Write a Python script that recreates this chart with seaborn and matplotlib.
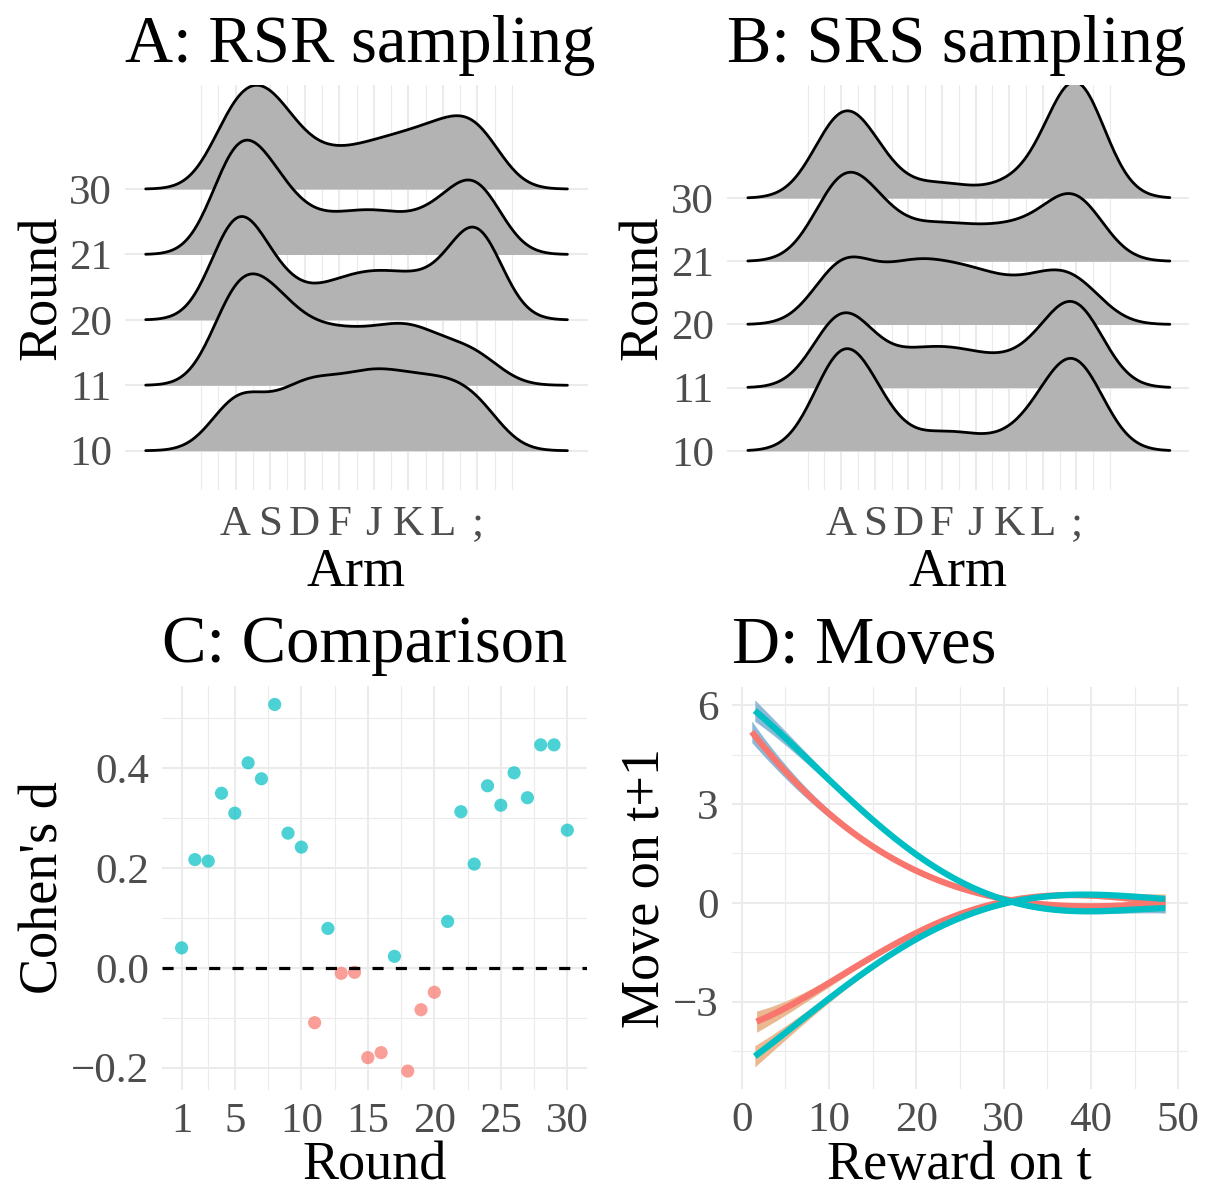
import numpy as np
import pandas as pd
import matplotlib
matplotlib.use("Agg")
import matplotlib.pyplot as plt
import matplotlib.transforms as mtransforms
from matplotlib.ticker import FixedLocator
import seaborn as sns

# ------------------------------------------------------------------ data
ARM_POS = [1, 2, 3, 4, 5, 6, 7, 8]
ARM_LABELS = ["A", "S", "D", "F", "J", "K", "L", ";"]
RIDGE_ROUNDS = [10, 11, 20, 21, 30]

# choices per arm (out of 200) in the shown rounds
rsr_r10 = [28, 14, 28, 24, 30, 26, 26, 23]
rsr_r11 = [48, 37, 21, 20, 19, 24, 15, 15]
rsr_r20 = [56, 20, 8, 15, 18, 16, 14, 52]
rsr_r21 = [55, 33, 13, 14, 17, 12, 18, 38]
rsr_r30 = [40, 40, 15, 13, 17, 20, 24, 31]

srs_r10 = [71, 24, 0, 12, 5, 4, 20, 65]
srs_r11 = [55, 10, 15, 18, 14, 10, 18, 60]
srs_r20 = [44, 14, 30, 24, 24, 15, 21, 28]
srs_r21 = [57, 25, 11, 18, 12, 16, 14, 46]
srs_r30 = [60, 21, 0, 11, 0, 9, 8, 91]

comp_rounds = list(range(1, 31))
cohens_d = [0.040, 0.217, 0.214, 0.350, 0.310, 0.411, 0.379, 0.528, 0.270, 0.242,
            -0.110, 0.079, -0.011, -0.009, -0.180, -0.170, 0.023, -0.207, -0.084, -0.049,
            0.093, 0.313, 0.208, 0.365, 0.326, 0.391, 0.341, 0.447, 0.447, 0.276]

reward_x = [5, 10, 15, 20, 25, 30, 35, 40, 45, 48.5]
rsr_up_x0, rsr_up_y0 = 1.15, 5.15
rsr_up = [4.05, 2.74, 1.64, 0.93, 0.48, 0.18, -0.05, -0.15, -0.07, 0.03]
srs_up_x0, srs_up_y0 = 1.5, 5.83
srs_up = [5.00, 3.74, 2.54, 1.43, 0.63, 0.13, -0.17, -0.27, -0.22, -0.15]
rsr_dn_x0, rsr_dn_y0 = 1.7, -3.64
rsr_dn = [-3.13, -2.43, -1.68, -0.92, -0.32, 0.05, 0.23, 0.18, 0.13, 0.05]
srs_dn_x0, srs_dn_y0 = 1.5, -4.71
srs_dn = [-3.84, -2.93, -1.98, -1.13, -0.42, 0.01, 0.18, 0.23, 0.18, 0.13]
move_se = [0.33, 0.20, 0.12, 0.09, 0.07, 0.06, 0.06, 0.07, 0.08, 0.10, 0.15]

# ------------------------------------------------------------------ style
sns.set_theme(style="white")
plt.rcParams["font.family"] = ["Liberation Serif", "DejaVu Serif"]
plt.rcParams["axes.unicode_minus"] = True
plt.rcParams["lines.scale_dashes"] = False

GRID = "#EBEBEB"
TICK_COL = "#4D4D4D"
TICK_FS, LAB_FS, TITLE_FS = 31, 39, 48
RED, TEAL = "#F8766D", "#00BFC4"
BAND_UP, BAND_DN = "#8CB9D7", "#EBB991"

fig = plt.figure(figsize=(12.07, 11.91), dpi=100)
fig.patch.set_facecolor("white")


def style_axes(ax, xmaj, xmin, ymaj, ymin, xpad=11):
    for s in ax.spines.values():
        s.set_visible(False)
    ax.xaxis.set_major_locator(FixedLocator(xmaj))
    ax.xaxis.set_minor_locator(FixedLocator(xmin))
    ax.yaxis.set_major_locator(FixedLocator(ymaj))
    ax.yaxis.set_minor_locator(FixedLocator(ymin))
    ax.set_axisbelow(True)
    ax.grid(True, which="major", color=GRID, lw=1.5)
    ax.grid(True, which="minor", color=GRID, lw=0.8)
    ax.tick_params(which="both", length=0, labelcolor=TICK_COL, labelsize=TICK_FS)
    ax.tick_params(axis="x", pad=xpad)
    ax.tick_params(axis="y", pad=9.5)


def draw_ridges(ax, counts_by_round, bw, cut, scale):
    n = len(RIDGE_ROUNDS)
    for i, rnd in enumerate(RIDGE_ROUNDS):
        obs = np.repeat(np.asarray(ARM_POS, float), counts_by_round[rnd])
        factor = bw / np.std(obs, ddof=1)
        tr = mtransforms.Affine2D().scale(1, scale).translate(0, i) + ax.transData
        z = 10 + 2 * (n - i)
        nc = len(ax.collections)
        sns.kdeplot(x=obs, bw_method=factor, cut=cut, fill=True,
                    color="#B3B3B3", alpha=1, linewidth=0, ax=ax)
        for c in ax.collections[nc:]:
            c.set_transform(tr)
            c.set_zorder(z)
        nl = len(ax.lines)
        sns.kdeplot(x=obs, bw_method=factor, cut=cut,
                    color="black", linewidth=2.0, ax=ax)
        for ln in ax.lines[nl:]:
            ln.set_transform(tr)
            ln.set_zorder(z + 1)


def ridge_panel(rect, counts_by_round, bw, cut, scale, xlim, ylim, title):
    ax = fig.add_axes(rect)
    draw_ridges(ax, counts_by_round, bw, cut, scale)
    style_axes(ax, ARM_POS, list(np.arange(0, 9.01, 0.5)),
               list(range(len(RIDGE_ROUNDS))), [])
    ax.set_xticklabels(ARM_LABELS)
    ax.set_yticklabels([str(r) for r in RIDGE_ROUNDS])
    ax.set_xlim(*xlim)
    ax.set_ylim(*ylim)
    ax.set_xlabel("Arm", fontsize=LAB_FS, labelpad=3, color="black")
    ax.set_ylabel("Round", fontsize=LAB_FS, labelpad=1, color="black")
    ax.set_title(title, loc="left", fontsize=TITLE_FS, pad=16.5, color="black")
    return ax


rsr = {10: rsr_r10, 11: rsr_r11, 20: rsr_r20, 21: rsr_r21, 30: rsr_r30}
srs = {10: srs_r10, 11: srs_r11, 20: srs_r20, 21: srs_r21, 30: srs_r30}

ridge_panel([0.1036, 0.5886, 0.3836, 0.3400], rsr, 0.75, 3.47, 8.98,
            (-2.2, 11.2), (-0.6, 5.59), "A: RSR sampling")
ridge_panel([0.6023, 0.5886, 0.3828, 0.3400], srs, 0.85, 3.27, 8.19,
            (-2.4, 11.35), (-0.62, 5.79), "B: SRS sampling")

# ------------------------------------------------------------------ C
axc = fig.add_axes([0.1345, 0.0852, 0.3515, 0.3388])
dfc = pd.DataFrame({"Round": comp_rounds, "d": cohens_d})
dfc["sign"] = np.where(dfc["d"] > 0, "pos", "neg")
sns.scatterplot(data=dfc, x="Round", y="d", hue="sign",
                palette={"pos": TEAL, "neg": RED}, s=90, alpha=0.7,
                linewidth=0, legend=False, ax=axc, zorder=3)
axc.axhline(0, color="black", lw=2.3, ls=(0, (8.0, 8.8)), zorder=4)
style_axes(axc, [1, 5, 10, 15, 20, 25, 30], [3, 7.5, 12.5, 17.5, 22.5, 27.5],
           [-0.2, 0.0, 0.2, 0.4], [-0.1, 0.1, 0.3, 0.5], xpad=9.5)
axc.set_yticklabels(["\u22120.2", "0.0", "0.2", "0.4"])
axc.set_xlim(-0.45, 31.45)
axc.set_ylim(-0.244, 0.565)
axc.set_xlabel("Round", fontsize=LAB_FS, labelpad=0, color="black")
axc.set_ylabel("Cohen's d", fontsize=LAB_FS, labelpad=1, color="black")
axc.set_title("C: Comparison", loc="left", fontsize=TITLE_FS, pad=17, color="black")

# ------------------------------------------------------------------ D
axd = fig.add_axes([0.6062, 0.0859, 0.3780, 0.3373])
curves = [
    (rsr_up_x0, rsr_up_y0, rsr_up, RED, BAND_UP),
    (srs_up_x0, srs_up_y0, srs_up, TEAL, BAND_UP),
    (rsr_dn_x0, rsr_dn_y0, rsr_dn, RED, BAND_DN),
    (srs_dn_x0, srs_dn_y0, srs_dn, TEAL, BAND_DN),
]
ORDER = 4
se = np.asarray(move_se)
for x0, y0, ys, lc, bc in curves:
    xx = np.array([x0] + reward_x)
    yy = np.array([y0] + ys)
    n0 = len(axd.lines)
    sns.regplot(x=xx, y=yy + se, order=ORDER, ci=None, scatter=False, ax=axd,
                line_kws=dict(alpha=0))
    sns.regplot(x=xx, y=yy - se, order=ORDER, ci=None, scatter=False, ax=axd,
                line_kws=dict(alpha=0))
    up = axd.lines[n0].get_xydata()
    lo = axd.lines[n0 + 1].get_xydata()
    for ln in axd.lines[n0:]:
        ln.remove()
    axd.fill_between(up[:, 0], lo[:, 1], up[:, 1], color=bc, lw=0, zorder=2)
for x0, y0, ys, lc, bc in curves:
    xx = np.array([x0] + reward_x)
    yy = np.array([y0] + ys)
    sns.regplot(x=xx, y=yy, order=ORDER, ci=None, scatter=False, ax=axd, color=lc,
                line_kws=dict(lw=4.5, solid_capstyle="butt",
                              zorder=4 if lc == TEAL else 3))
style_axes(axd, [0, 10, 20, 30, 40, 50], [5, 15, 25, 35, 45],
           [-3, 0, 3, 6], [-4.5, -1.5, 1.5, 4.5], xpad=9.5)
axd.set_yticklabels(["\u22123", "0", "3", "6"])
axd.set_xlim(-1.15, 51.1)
axd.set_ylim(-5.64, 6.55)
axd.set_xlabel("Reward on t", fontsize=LAB_FS, labelpad=0, color="black")
axd.set_ylabel("Move on t+1", fontsize=LAB_FS, labelpad=1, color="black")
axd.set_title("D: Moves", loc="left", fontsize=TITLE_FS, pad=17, color="black")

fig.savefig("out.png", dpi=100, facecolor="white")
